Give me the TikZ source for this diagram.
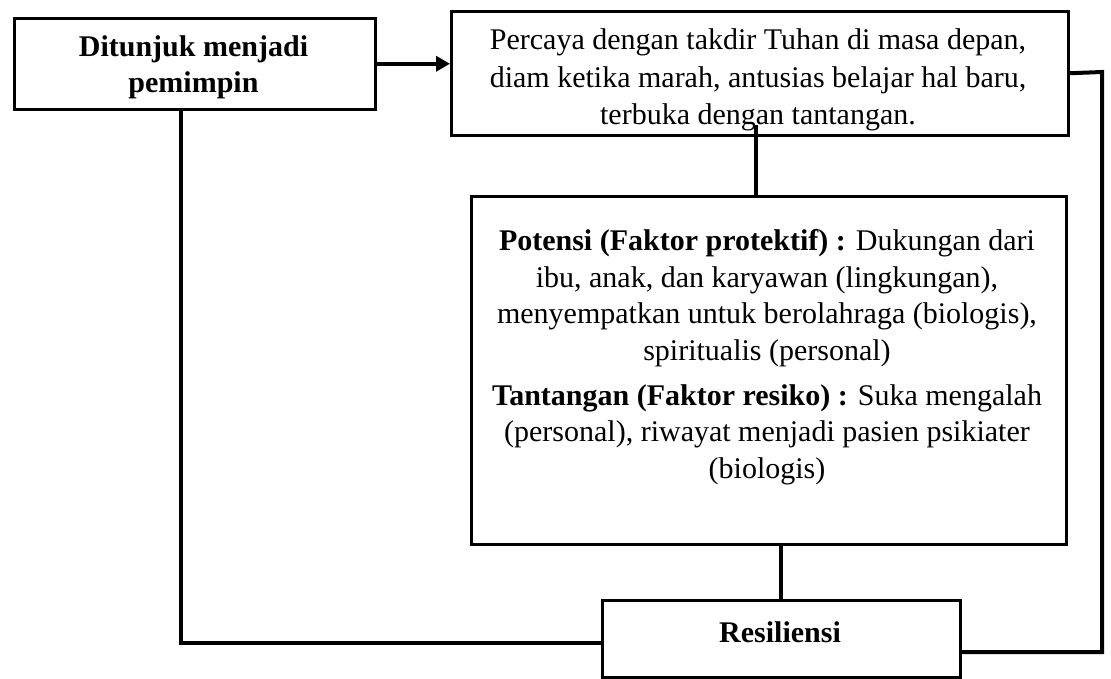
\documentclass[tikz,border=0pt]{standalone}
\usepackage{fontspec}
\setmainfont{Liberation Serif}
\usetikzlibrary{arrows.meta}
\begin{document}
\begin{tikzpicture}[x=1pt,y=-1pt,
  box/.style={draw, line width=2.5pt, rectangle, inner sep=0pt, anchor=north west},
  conn/.style={line width=4pt},
  txt/.style={align=center, inner sep=0pt, font=\fontsize{30}{36.5}\selectfont}]
\useasboundingbox (0,0) rectangle (1111,678);
% boxes
\node[box, minimum width=361pt, minimum height=91pt] (A) at (13,17) {};
\node[box, minimum width=617pt, minimum height=124pt] (B) at (450,10) {};
\node[box, minimum width=595pt, minimum height=348pt] (C) at (470,195) {};
\node[box, minimum width=358pt, minimum height=77pt] (D) at (601,599) {};
% texts
\node[txt, font=\fontsize{30}{36}\selectfont\bfseries] (tA) at (193.5,67) {Ditunjuk menjadi\\pemimpin};
\node[txt, font=\fontsize{30}{37.5}\selectfont] (tB) at (758,80) {Percaya dengan takdir Tuhan di masa depan,\\diam ketika marah, antusias belajar hal baru,\\terbuka dengan tantangan.};
\node[txt] (tC) at (767,357) {\textbf{Potensi (Faktor protektif) :} Dukungan dari\\ibu, anak, dan karyawan (lingkungan),\\menyempatkan untuk berolahraga (biologis),\\spiritualis (personal)\\[8.5pt]\textbf{Tantangan (Faktor resiko) :} Suka mengalah\\(personal), riwayat menjadi pasien psikiater\\(biologis)};
\node[txt, anchor=base, font=\fontsize{30}{36}\selectfont\bfseries] (tD) at (780,642) {Resiliensi};
% connectors
\draw[conn, -{Triangle[length=14pt,width=15pt]}] (A.east) -- (A.east -| B.west);
\draw[conn] ([xshift=-3.5pt,yshift=12pt]B.south) -- ([xshift=-3.5pt]B.south |- C.north);
\draw[conn] (D.north |- C.south) -- (D.north);
\draw[conn] ([xshift=-13.5pt]A.south) |- ([yshift=-4.5pt]D.west);
\coordinate (rt) at (1102,72);
\coordinate (rb) at (1102,652);
\draw[conn] (B.east) -- (rt) -- (rb) -- (D.east |- rb);
\end{tikzpicture}
\end{document}
